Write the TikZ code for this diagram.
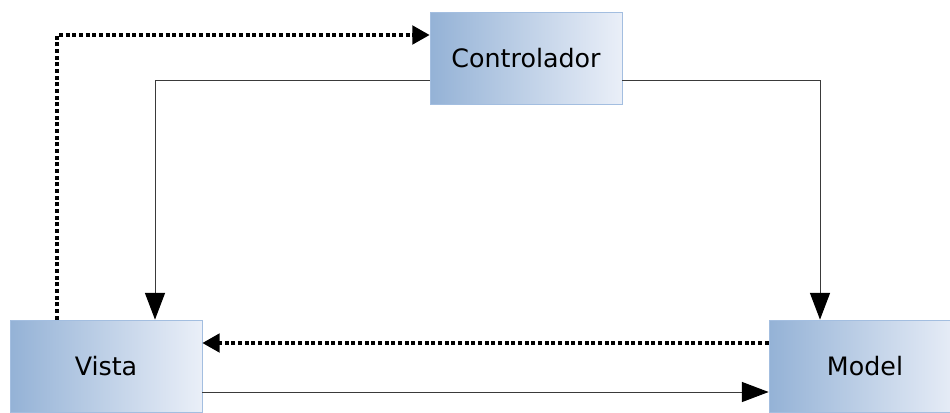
\documentclass[tikz,border=0pt]{standalone}
\usepackage{fontspec}
\setmainfont{DejaVu Sans}
\usetikzlibrary{arrows.meta}
\definecolor{boxL}{HTML}{94B2D6}
\definecolor{boxR}{HTML}{EAEFF8}
\definecolor{boxB}{HTML}{A3BEE0}
\definecolor{lineC}{HTML}{3A3A3A}
\tikzset{
  mvcbox/.style={rectangle, draw=boxB, line width=0.6pt, left color=boxL, right color=boxR,
    minimum width=144pt, minimum height=69pt, inner sep=0pt, font=\fontsize{19}{21}\selectfont},
  solidarrow/.style={draw=lineC, line width=0.75pt, -{Triangle[length=20pt,width=15pt,color=black]}},
  dotarrow/.style={draw=black, line width=2.4pt, dash pattern=on 3pt off 2pt, line join=miter,
    -{Triangle[length=13pt,width=14pt]}}
}
\begin{document}
\begin{tikzpicture}[x=0.75pt,y=-0.75pt]
\useasboundingbox (0,0) rectangle (950,412);
\clip (0,0) rectangle (950,412);
\node[mvcbox] (ctrl) at (526,58) {Controlador};
\node[mvcbox] (vista) at (106,366) {Vista};
\node[mvcbox] (model) at (865,366) {Model};
\draw[solidarrow] ([yshift=-16.5pt]ctrl.west) -| ([xshift=36.75pt]vista.north);
\draw[solidarrow] ([yshift=-16.5pt]ctrl.east) -| ([xshift=-33.75pt]model.north);
\draw[solidarrow] ([yshift=-19.5pt]vista.east) -- ([yshift=-19.5pt]model.west);
\draw[dotarrow] ([yshift=17.25pt]model.west) -- ([yshift=17.25pt]vista.east);
\draw[dotarrow] ([xshift=-36.75pt]vista.north) |- ([yshift=17.25pt]ctrl.west);
\end{tikzpicture}
\end{document}
